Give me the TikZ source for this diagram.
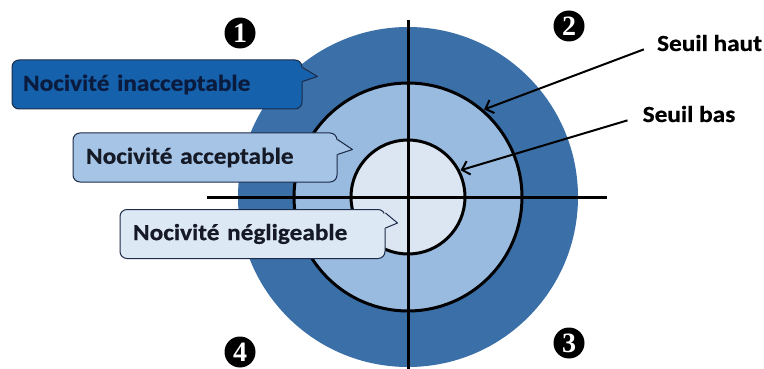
\documentclass[tikz,border=0pt]{standalone}
\usepackage{fontspec}
\setmainfont{Carlito}[FakeStretch=1.1, BoldFeatures={FakeBold=0.6}]
\newfontfamily\digitfont{Liberation Serif}
\usetikzlibrary{calc,arrows.meta}

\definecolor{ringouter}{HTML}{3A6FA8}
\definecolor{ringmid}{HTML}{9ABBE0}
\definecolor{ringinner}{HTML}{DCE6F2}
\definecolor{boxone}{HTML}{1561AC}
\definecolor{boxtwo}{HTML}{A6C4E6}
\definecolor{boxthree}{HTML}{DDE8F5}
\definecolor{boxedge}{HTML}{1C2B48}
\definecolor{navytext}{HTML}{0B1B3E}
\definecolor{darktext}{HTML}{151A26}

% pointer of a callout box, drawn on its right side:
% #1 node, #2 fill, #3/#4 offsets of the base below the top edge, #5/#6 tip offset
\newcommand{\wedgeptr}[6]{%
  \fill[#2] ($(#1.north east)+(-1.5,#3)$) -- ($(#1.north east)+(#5,#6)$)
            -- ($(#1.north east)+(-1.5,#4)$) -- cycle;
  \draw[boxedge, line width=1pt, line join=round]
        ($(#1.north east)+(0,#3)$) -- ($(#1.north east)+(#5,#6)$)
        -- ($(#1.north east)+(0,#4)$);
}

\begin{document}
\begin{tikzpicture}[x=1pt, y=-1pt,
  ring/.style={draw=black, line width=3pt},
  axis/.style={draw=black, line width=3pt},
  calloutbox/.style={draw=boxedge, line width=1pt, rounded corners=7pt,
    minimum height=49pt, inner ysep=0pt, align=left,
    font=\fontsize{23}{26}\selectfont\bfseries},
  quadrant/.style={circle, fill=black, minimum size=31pt, inner sep=0pt,
    text=white, font=\digitfont\fontsize{28}{28}\selectfont\bfseries},
  thresholdlabel/.style={inner sep=0pt, text=black,
    font=\fontsize{23}{26}\selectfont\bfseries},
  pointer/.style={draw=black, line width=2pt,
    -{Straight Barb[length=7pt, width=14pt, line width=2pt]}}
]
\useasboundingbox (0,0) rectangle (764,369);

% concentric zones
\coordinate (c) at (408,197);
\fill[ringouter] (c) circle (170);
\path[ring, fill=ringmid] (c) circle (114);
\path[ring, fill=ringinner] (c) circle (57);

% axes
\coordinate (vtop) at (408,20);
\coordinate (vbot) at (408,369);
\coordinate (hleft) at (207,197);
\coordinate (hright) at (607,197);
\draw[axis] (vtop) -- (vbot);
\draw[axis] (hleft) -- (hright);

% zone labels
\node[calloutbox, fill=boxone, text=navytext, text width=268pt, inner xsep=11pt]
  (inacc) at (157,84.5) {Nocivité inacceptable};
\wedgeptr{inacc}{boxone}{8}{22}{15}{17}

\node[calloutbox, fill=boxtwo, text=darktext, text width=238pt, inner xsep=13pt]
  (acc) at (205,157.5) {Nocivité acceptable};
\wedgeptr{acc}{boxtwo}{7}{22}{15}{17}

\node[calloutbox, fill=boxthree, text=darktext, text width=239pt, inner xsep=13pt]
  (negl) at (252.5,234) {Nocivité négligeable};
\wedgeptr{negl}{boxthree}{4}{19}{12}{14}

% quadrant numbers
\node[quadrant] (q1) at (240,33) {1};
\node[quadrant] (q2) at (569,26) {2};
\node[quadrant] (q3) at (569,343) {3};
\node[quadrant] (q4) at (240,352) {4};

% thresholds
\node[thresholdlabel] (high) at (709.5,43) {Seuil haut};
\node[thresholdlabel] (low) at (689,114) {Seuil bas};
\coordinate (hightip) at ($(c)+(-49:116)$);
\coordinate (lowtip) at ($(c)+(-27:59)$);
\draw[pointer] ($(high.south west)+(-13,-2)$) -- (hightip);
\draw[pointer] ($(low.south west)+(-15,-2)$) -- (lowtip);
\end{tikzpicture}
\end{document}
